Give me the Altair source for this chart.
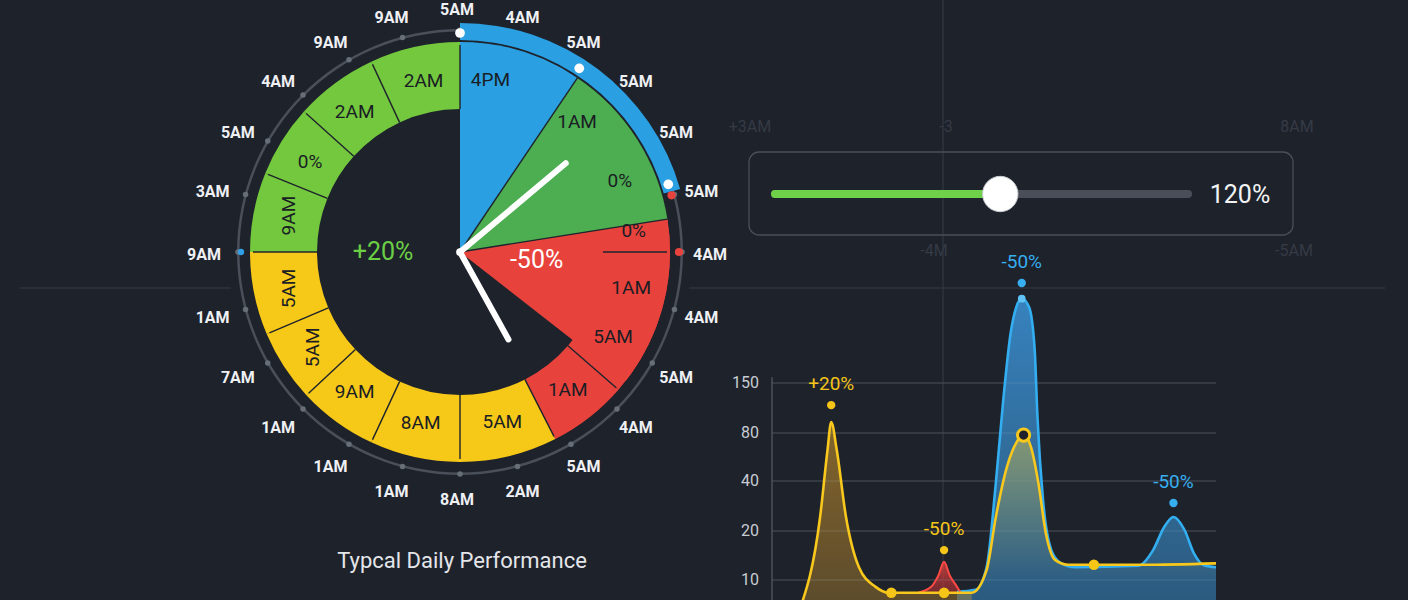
import altair as alt
import numpy as np
import pandas as pd

# ---------------------------------------------------------------- canvas
W, H = 1408, 600
BG = "#1e222b"
FONT = "Roboto"

# ---------------------------------------------------------------- dial data
# hour labels around the dial, clockwise from 12 o'clock, one every 15 degrees
dial_hours = ["5AM", "4AM", "5AM", "5AM", "5AM", "5AM", "4AM", "4AM", "5AM", "4AM",
              "5AM", "2AM", "8AM", "1AM", "1AM", "1AM", "7AM", "1AM", "9AM", "3AM",
              "5AM", "4AM", "9AM", "9AM"]

# ring segments (degrees clockwise from top)
ring_start = [270, 292, 312, 335, 153, 180, 205, 227, 247, 81, 90, 111, 131]
ring_end = [292, 312, 335, 360, 180, 205, 227, 247, 270, 90, 111, 131, 153]
ring_group = ["up"] * 4 + ["flat"] * 5 + ["down"] * 4

# full-depth wedges
wedge_start = [0, 34, 81]
wedge_end = [34, 81, 128]
wedge_group = ["peak", "rise", "down"]

# highlighted arc on the outside of the dial
band_start = [0]
band_end = [74]

# labels written inside the segments
seg_text = ["4PM", "1AM", "0%", "0%", "1AM", "5AM", "1AM", "5AM", "8AM", "9AM",
            "5AM", "5AM", "9AM", "0%", "2AM", "2AM"]
seg_deg = [10, 42, 66, 83, 102, 119, 142, 166, 193, 217, 237, 258, 282, 301, 323, 348]
seg_rot = [0] * 10 + [270, 270, 270] + [0, 0, 0]

# big values near the hub
hub_text = ["+20%", "-50%"]
hub_deg = [270, 96]
hub_group = ["up", "down"]

# divider lines
core_edges = [34, 81]
ring_edges = [0, 90, 131, 153, 180, 205, 227, 247, 270, 292, 312, 335]

# highlighted positions on the dial track
marker_deg = [0, 33, 72, 75, 90, 270]
marker_group = ["cursor", "cursor", "cursor", "down", "down", "peak"]

# clock hands
hand_name = ["minute", "hour"]
hand_deg = [50, 151]

# ---------------------------------------------------------------- trend data
y_ticks = [10, 20, 40, 80, 150]

today_hour = [1.5, 2.6, 3.0, 3.2, 3.5, 4.0, 4.7, 5.6, 6.3, 8.0, 9.3, 10.8, 11.6, 12.1,
              12.7, 13.2, 13.6, 14.0, 14.4, 14.8, 15.3, 16.0, 17.4, 20.0, 24.0]
today_val = [4.0, 25.6, 65.8, 95.4, 65.8, 25.6, 12.6, 8.6, 7.4, 7.4, 7.4, 7.4, 12.0, 25.6,
             51.7, 71.7, 78.3, 68.3, 39.2, 19.6, 14.1, 13.1, 13.1, 13.1, 13.4]

typical_hour = [10.0, 11.0, 11.6, 12.1, 12.5, 12.9, 13.2, 13.5, 13.9, 14.2, 14.35, 14.65,
                15.1, 15.6, 16.4, 19.8, 20.6, 21.2, 21.7, 22.3, 22.8, 23.35, 24.0]
typical_val = [7.6, 8.0, 12.6, 39.2, 126, 220, 256, 268, 256, 196, 102, 32.4,
               16.1, 13.5, 12.6, 12.9, 16.1, 21.6, 25.6, 20.4, 15.5, 13.0, 12.6]

spike_hour = [7.9, 8.6, 9.0, 9.3, 9.6, 10.0, 10.2]
spike_val = [7.4, 8.6, 11.0, 13.7, 11.0, 8.6, 7.4]

today_marker_hour = [6.45, 9.3, 17.4]
today_marker_val = [7.4, 7.4, 13.1]
today_ring_hour = [13.6]
today_ring_val = [78.3]
typical_top_hour = [13.5]
typical_top_val = [268]

note_hour = [3.2, 9.3, 13.5, 21.7]
note_val = [119, 16.1, 290, 31.2]
note_text = ["+20%", "-50%", "-50%", "-50%"]
note_series = ["today", "today", "typical", "typical"]

# ---------------------------------------------------------------- slider data
slider_min, slider_max = 0, 220
slider_value = 120

# ---------------------------------------------------------------- layout
CX, CY = 460, 252
R_IN, R_OUT = 143, 210
R_TRACK = 222
R_SEG_TEXT = 175
R_HUB_TEXT = 77
HAND_REACH = {"minute": 138, "hour": 100}
# hour labels sit on a slightly wider ellipse around the dial
LCX, LCY, LRX, LRY = 457, 255, 253, 245
# morning / afternoon split of today's fill (hour)
FILL_SPLIT = 10.8

DIAL_COLOR = alt.Scale(domain=["peak", "rise", "down", "up", "flat", "cursor"],
                       range=["#2aa0e3", "#4cae50", "#e8423c", "#73c83e", "#f6c817", "#ffffff"])
HUB_COLOR = alt.Scale(domain=["up", "down"], range=["#6bcf45", "#ffffff"])
MARK_COLOR = alt.Scale(domain=["cursor", "down", "peak"], range=["#ffffff", "#e8423c", "#2f9fe6"])
MARK_SIZE = alt.Scale(domain=["cursor", "down", "peak"], range=[95, 40, 55])
SERIES_COLOR = alt.Scale(domain=["today", "typical"], range=["#f5c518", "#36aef0"])

TH = alt.Scale(domain=[0, 360], range=[0, 2 * np.pi], nice=False, zero=False)
RX = alt.Scale(domain=[-300, 300], range=[CX - 300, CX + 300], nice=False, zero=False)
RY = alt.Scale(domain=[-300, 300], range=[CY + 300, CY - 300], nice=False, zero=False)
LX = alt.Scale(domain=[-300, 300], range=[LCX - 300, LCX + 300], nice=False, zero=False)
LY = alt.Scale(domain=[-300, 300], range=[LCY + 300, LCY - 300], nice=False, zero=False)
HX = alt.Scale(domain=[0, 24], range=[772, 1216], nice=False, zero=False)
VY = alt.Scale(domain=y_ticks, range=[580, 531, 481, 433, 383], nice=False, zero=False)
SX = alt.Scale(domain=[slider_min, slider_max], range=[775, 1188], nice=False, zero=False)

ONE = pd.DataFrame({"k": [0]})
CENTER = dict(x=alt.value(CX), y=alt.value(CY))


def polar(chart, radius, deg="deg", xo="px", yo="py", ry=None):
    """Add cartesian offsets for a point at `radius` and angle `deg`."""
    ry = radius if ry is None else ry
    return chart.transform_calculate(**{
        xo: f"({radius})*sin(datum.{deg}*PI/180)",
        yo: f"({ry})*cos(datum.{deg}*PI/180)",
    })


def pxy(xf="px", yf="py", sx=RX, sy=RY):
    return dict(x=alt.X(f"{xf}:Q", scale=sx, axis=None),
                y=alt.Y(f"{yf}:Q", scale=sy, axis=None))


layers = []

# ---------------------------------------------------------------- guides
guide = "#353b46"
layers.append(alt.Chart(ONE).mark_rule(color=guide, strokeWidth=1).encode(
    x=alt.value(943), y=alt.value(0), y2=alt.value(H)))
layers.append(alt.Chart(ONE).mark_rule(color=guide, strokeWidth=1).encode(
    x=alt.value(20), x2=alt.value(1385), y=alt.value(288)))

GHOST_LABELS = {"+3AM": (750, 127), "-3": (946, 127), "8AM": (1297, 127),
                "-4M": (934, 251), "-5AM": (1294, 251)}
for txt, (gx, gy) in GHOST_LABELS.items():
    layers.append(alt.Chart(ONE).mark_text(font=FONT, fontSize=16, color="#353a45").encode(
        x=alt.value(gx), y=alt.value(gy), text=alt.value(txt)))

# ---------------------------------------------------------------- dial
layers.append(alt.Chart(ONE).mark_arc(theta=0, theta2=2 * np.pi, innerRadius=0,
                                      outerRadius=232).encode(color=alt.value(BG), **CENTER))
layers.append(alt.Chart(ONE).mark_arc(theta=0, theta2=2 * np.pi, innerRadius=220.5,
                                      outerRadius=223).encode(color=alt.value("#4a505a"), **CENTER))

ticks = pd.DataFrame({"label": dial_hours, "deg": np.arange(len(dial_hours)) * 15})
layers.append(polar(alt.Chart(ticks), R_TRACK).mark_circle(size=30, color="#686e78", opacity=1).encode(**pxy()))

band = pd.DataFrame({"a": band_start, "b": band_end, "g": ["peak"]})
layers.append(alt.Chart(band).mark_arc(innerRadius=212, outerRadius=229).encode(
    theta=alt.Theta("a:Q", scale=TH, stack=None), theta2="b:Q",
    color=alt.Color("g:N", scale=DIAL_COLOR, legend=None), **CENTER))

wedges = pd.DataFrame({"a": wedge_start, "b": wedge_end, "g": wedge_group})
layers.append(alt.Chart(wedges).mark_arc(innerRadius=0, outerRadius=R_OUT).encode(
    theta=alt.Theta("a:Q", scale=TH, stack=None), theta2="b:Q",
    color=alt.Color("g:N", scale=DIAL_COLOR, legend=None), **CENTER))

ring = pd.DataFrame({"a": ring_start, "b": ring_end, "g": ring_group})
layers.append(alt.Chart(ring).mark_arc(innerRadius=R_IN, outerRadius=R_OUT).encode(
    theta=alt.Theta("a:Q", scale=TH, stack=None), theta2="b:Q",
    color=alt.Color("g:N", scale=DIAL_COLOR, legend=None), **CENTER))

edge_color = "#20242c"
core = pd.DataFrame({"deg": core_edges})
layers.append(polar(polar(alt.Chart(core), 0, xo="x0", yo="y0"), R_OUT, xo="x1", yo="y1")
              .mark_rule(color=edge_color, strokeWidth=1.4)
              .encode(x=alt.X("x0:Q", scale=RX, axis=None), x2="x1:Q",
                      y=alt.Y("y0:Q", scale=RY, axis=None), y2="y1:Q"))
redges = pd.DataFrame({"deg": ring_edges})
layers.append(polar(polar(alt.Chart(redges), R_IN, xo="x0", yo="y0"), R_OUT - 3, xo="x1", yo="y1")
              .mark_rule(color=edge_color, strokeWidth=1.4)
              .encode(x=alt.X("x0:Q", scale=RX, axis=None), x2="x1:Q",
                      y=alt.Y("y0:Q", scale=RY, axis=None), y2="y1:Q"))

segl = pd.DataFrame({"t": seg_text, "deg": seg_deg, "rot": seg_rot})
layers.append(polar(alt.Chart(segl), R_SEG_TEXT).mark_text(
    font=FONT, fontSize=19, color="#1a1d24", baseline="middle", align="center").encode(
    text="t:N", angle=alt.Angle("rot:Q", scale=None), **pxy()))

hub = pd.DataFrame({"t": hub_text, "deg": hub_deg, "g": hub_group})
layers.append(polar(alt.Chart(hub), R_HUB_TEXT).mark_text(
    font=FONT, fontSize=25, baseline="middle", align="center").encode(
    text="t:N", color=alt.Color("g:N", scale=HUB_COLOR, legend=None), **pxy()))

marks = pd.DataFrame({"deg": marker_deg, "g": marker_group})
layers.append(polar(alt.Chart(marks), R_TRACK - 3).mark_circle(opacity=1).encode(
    color=alt.Color("g:N", scale=MARK_COLOR, legend=None),
    size=alt.Size("g:N", scale=MARK_SIZE, legend=None), **pxy()))

hands = pd.DataFrame({"hand": hand_name, "deg": hand_deg})
reach = f"(datum.hand == 'minute' ? {HAND_REACH['minute']} : {HAND_REACH['hour']})"
layers.append(polar(polar(alt.Chart(hands), 0, xo="x0", yo="y0"), reach, xo="x1", yo="y1")
              .mark_rule(color="white", strokeWidth=6, strokeCap="round")
              .encode(x=alt.X("x0:Q", scale=RX, axis=None), x2="x1:Q",
                      y=alt.Y("y0:Q", scale=RY, axis=None), y2="y1:Q"))
layers.append(alt.Chart(ONE).mark_circle(size=60, color="white", opacity=1).encode(**CENTER))

layers.append(polar(alt.Chart(ticks), LRX, ry=LRY).mark_text(
    font=FONT, fontSize=16, fontWeight="bold", color="#eef0f3", baseline="middle", align="center").encode(
    text="label:N", **pxy(sx=LX, sy=LY)))

layers.append(alt.Chart(ONE).mark_text(font=FONT, fontSize=22, color="#e4e6ea").encode(
    x=alt.value(462), y=alt.value(561), text=alt.value("Typcal Daily Performance")))

# ---------------------------------------------------------------- slider
layers.append(alt.Chart(ONE).mark_rect(cornerRadius=10, fillOpacity=0, stroke="#4a4f5a",
                                       strokeWidth=1.3).encode(
    x=alt.value(749), x2=alt.value(1293), y=alt.value(152), y2=alt.value(235)))
slider = pd.DataFrame({"lo": [slider_min], "hi": [slider_max], "v": [slider_value]})
layers.append(alt.Chart(slider).mark_rule(color="#494e58", strokeWidth=8, strokeCap="round").encode(
    x=alt.X("lo:Q", scale=SX, axis=None), x2="hi:Q", y=alt.value(194)))
layers.append(alt.Chart(slider).mark_rule(color="#6fd14a", strokeWidth=8, strokeCap="round").encode(
    x=alt.X("lo:Q", scale=SX, axis=None), x2="v:Q", y=alt.value(194)))
layers.append(alt.Chart(slider).mark_circle(size=1250, color="white", opacity=1, stroke="#c9cdd2",
                                            strokeWidth=1).encode(
    x=alt.X("v:Q", scale=SX, axis=None), y=alt.value(194)))
layers.append(alt.Chart(slider).transform_calculate(t="datum.v + '%'").mark_text(
    font=FONT, fontSize=25, color="#f2f3f5").encode(
    x=alt.value(1240), y=alt.value(195), text="t:N"))

# ---------------------------------------------------------------- trend chart
grid = pd.DataFrame({"v": y_ticks})
layers.append(alt.Chart(grid).mark_rule(color="#3b414b", strokeWidth=1.2).encode(
    x=alt.X(datum=0, scale=HX, axis=None), x2=alt.X2(datum=24),
    y=alt.Y("v:Q", scale=VY, axis=None)))
layers.append(alt.Chart(ONE).mark_rule(color="#4b515b", strokeWidth=1.5).encode(
    x=alt.X(datum=0, scale=HX, axis=None),
    y=alt.Y(datum=158, scale=VY, axis=None), y2=alt.Y2(datum=0)))
layers.append(alt.Chart(grid).mark_text(font=FONT, fontSize=16, color="#c8ccd3", align="right",
                                        baseline="middle", dx=-13).encode(
    x=alt.X(datum=0, scale=HX, axis=None), y=alt.Y("v:Q", scale=VY, axis=None), text="v:Q"))


def xy(df_hour="hour", df_val="v"):
    return dict(x=alt.X(f"{df_hour}:Q", scale=HX, axis=None),
                y=alt.Y(f"{df_val}:Q", scale=VY, axis=None))


def grad(stops):
    return alt.Gradient(gradient="linear", x1=0, x2=0, y1=0, y2=1,
                        stops=[alt.GradientStop(color=c, offset=o) for o, c in stops])


typical = pd.DataFrame({"hour": typical_hour, "v": typical_val})
today = pd.DataFrame({"hour": today_hour, "v": today_val})
spike = pd.DataFrame({"hour": spike_hour, "v": spike_val})

# typical-day envelope
layers.append(alt.Chart(typical).mark_area(
    interpolate="monotone",
    color=grad([(0, "rgba(63,162,239,0.75)"), (1, "rgba(52,124,175,0.6)")])
).encode(y2=alt.Y2(datum=0), **xy()))
# today's envelope: warm fill over the empty morning, a light tint over the typical curve
layers.append(alt.Chart(today).transform_filter(f"datum.hour <= {FILL_SPLIT}").mark_area(
    interpolate="monotone",
    color=grad([(0, "rgba(205,150,45,0.58)"), (1, "rgba(205,150,45,0.32)")])
).encode(y2=alt.Y2(datum=0), **xy()))
layers.append(alt.Chart(today).transform_filter(f"datum.hour >= {FILL_SPLIT}").mark_area(
    interpolate="monotone",
    color=grad([(0, "rgba(215,190,70,0.5)"), (0.75, "rgba(215,190,70,0.0)"), (1, "rgba(215,190,70,0.0)")])
).encode(y2=alt.Y2(datum=0), **xy()))
# short spike, filled down to its own base level
layers.append(alt.Chart(spike).mark_area(
    interpolate="monotone",
    color=grad([(0, "rgba(235,70,62,0.75)"), (1, "rgba(200,50,55,0.5)")])
).encode(y2=alt.Y2(datum=spike_val[0]), **xy()))

# grid shows faintly through the fills
layers.append(alt.Chart(grid).mark_rule(color="#8a94a3", strokeWidth=1, opacity=0.18).encode(
    x=alt.X(datum=0, scale=HX, axis=None), x2=alt.X2(datum=24),
    y=alt.Y("v:Q", scale=VY, axis=None)))

layers.append(alt.Chart(typical).mark_line(interpolate="monotone", color="#33aef0",
                                           strokeWidth=2.6).encode(**xy()))
layers.append(alt.Chart(spike).mark_line(interpolate="monotone", color="#ff4a46",
                                         strokeWidth=2).encode(**xy()))
layers.append(alt.Chart(today).mark_line(interpolate="monotone", color="#f8c81c",
                                         strokeWidth=2.6).encode(**xy()))

layers.append(alt.Chart(pd.DataFrame({"hour": today_marker_hour, "v": today_marker_val}))
              .mark_circle(size=110, color="#f5c518", opacity=1).encode(**xy()))
layers.append(alt.Chart(pd.DataFrame({"hour": today_ring_hour, "v": today_ring_val}))
              .mark_point(size=150, shape="circle", filled=True, fill=BG, stroke="#f8c81c",
                          strokeWidth=3, opacity=1).encode(**xy()))
layers.append(alt.Chart(pd.DataFrame({"hour": typical_top_hour, "v": typical_top_val}))
              .mark_circle(size=60, color="#5fc3f5", opacity=1).encode(**xy()))

notes = pd.DataFrame({"hour": note_hour, "v": note_val, "t": note_text, "s": note_series})
layers.append(alt.Chart(notes).mark_circle(size=70, opacity=1).encode(
    color=alt.Color("s:N", scale=SERIES_COLOR, legend=None), **xy()))
layers.append(alt.Chart(notes).mark_text(font=FONT, fontSize=19, dy=-21, baseline="middle").encode(
    text="t:N", color=alt.Color("s:N", scale=SERIES_COLOR, legend=None), **xy()))

# ---------------------------------------------------------------- assemble
chart = (
    alt.layer(*layers)
    .resolve_scale(x="independent", y="independent", color="independent",
                   theta="independent", size="independent", angle="independent")
    .properties(width=W, height=H, background=BG, padding=0,
                autosize=alt.AutoSizeParams(type="none"))
    .configure_view(stroke=None)
)

chart.save("out.html", embed_options={"renderer": "svg", "actions": False})
